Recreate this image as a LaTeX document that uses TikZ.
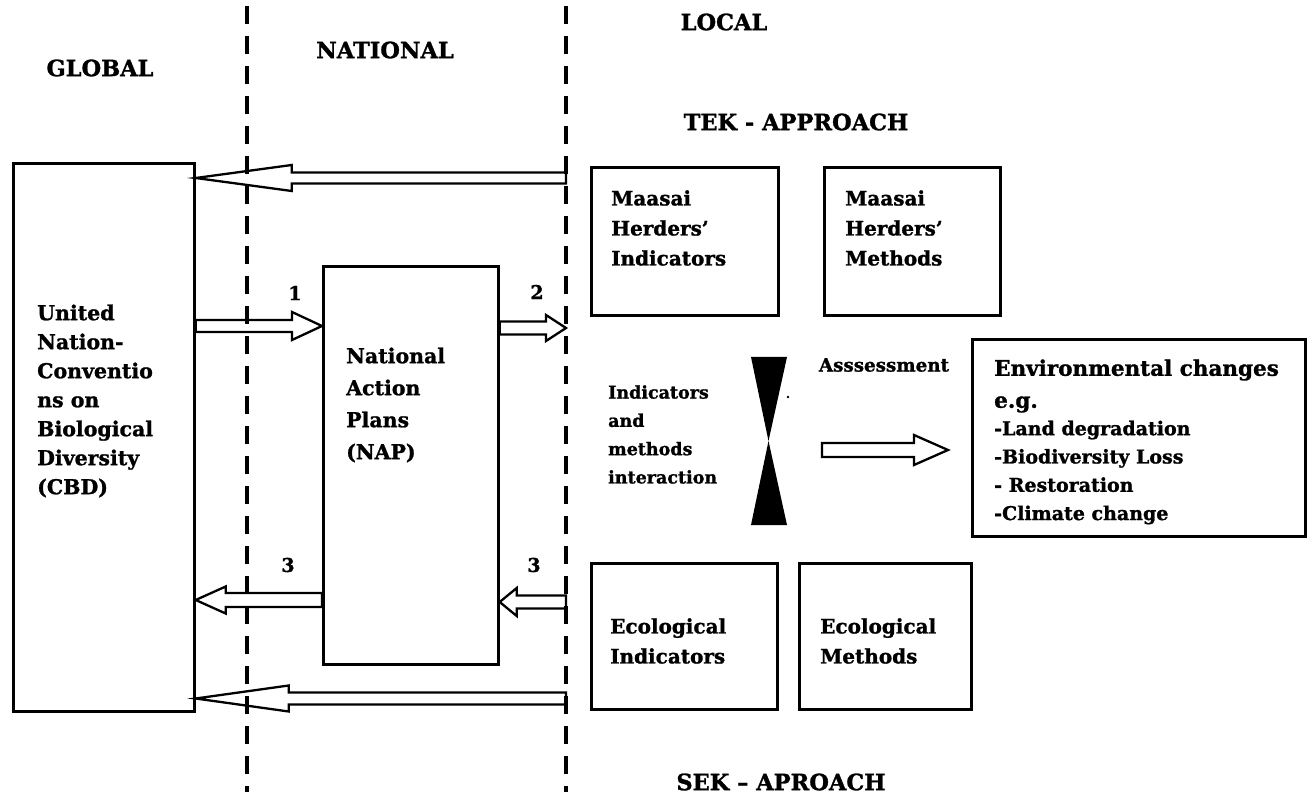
\documentclass[tikz,border=0pt]{standalone}
\usepackage{fontspec}
\setmainfont{DejaVu Serif}[BoldFeatures={FakeBold=1.2}]
\usetikzlibrary{calc}
\tikzset{
  box/.style={draw, line width=2.7pt, inner sep=0pt},
  lbl/.style={font=\bfseries\fontsize{20}{30}\selectfont, align=left, inner sep=0pt, anchor=west},
  cbdlbl/.style={font=\bfseries\fontsize{20.5}{29}\selectfont, align=left, inner sep=0pt, anchor=west},
  small/.style={font=\bfseries\fontsize{17.5}{28.3}\selectfont, align=left, inner sep=0pt, anchor=west},
  head/.style={font=\bfseries\fontsize{22.5}{26}\selectfont, inner sep=0pt},
  num/.style={font=\bfseries\fontsize{19}{22}\selectfont, inner sep=0pt},
  hollow/.style={draw, line width=2.3pt, line join=miter, fill=white},
  divider/.style={line width=3.5pt, dash pattern=on 18pt off 12pt},
}
\newcommand\harrow[5]{%
  \path[hollow] let \p1=(#1), \p2=(#2), \n1={(\x2-\x1)/abs(\x2-\x1)}, \n2={\n1*#4} in
   (\x1,{\y1+#3}) -- ({\x2-\n2},{\y1+#3}) -- ({\x2-\n2},{\y1+#5}) -- (\x2,\y1)
   -- ({\x2-\n2},{\y1-#5}) -- ({\x2-\n2},{\y1-#3}) -- (\x1,{\y1-#3}) -- cycle;}
\begin{document}
\begin{tikzpicture}[x=1pt,y=-1pt]
\useasboundingbox (0,0) rectangle (1309,799);
\fill[white] (0,0) rectangle (1309,799);

% boxes
\node[box, anchor=north west, minimum width=181pt, minimum height=548pt] (cbd) at (12,162) {};
\node[box, anchor=north west, minimum width=175pt, minimum height=398pt] (nap) at (322,265) {};
\node[box, anchor=north west, minimum width=187pt, minimum height=148pt] (mhi) at (590,166) {};
\node[box, anchor=north west, minimum width=176pt, minimum height=148pt] (mhm) at (823,166) {};
\node[box, anchor=north west, minimum width=186pt, minimum height=146pt] (eci) at (590,562) {};
\node[box, anchor=north west, minimum width=172pt, minimum height=146pt] (ecm) at (798,562) {};
\node[box, anchor=north west, minimum width=333pt, minimum height=197pt] (env) at (971,338) {};

% texts
\node[cbdlbl] (cbdt) at (37,401) {United\\Nation-\\Conventio\\ns on\\Biological\\Diversity\\(CBD)};
\node[cbdlbl, font=\bfseries\fontsize{20.5}{32}\selectfont] (napt) at (346,405) {National\\Action\\Plans\\(NAP)};
\node[lbl] (mhit) at (611,228) {Maasai\\Herders’\\Indicators};
\node[lbl] (mhmt) at (845,228) {Maasai\\Herders’\\Methods};
\node[lbl] (ecit) at (610,641) {Ecological\\Indicators};
\node[lbl] (ecmt) at (820,641) {Ecological\\Methods};
\node[small] (intt) at (608,434.5) {Indicators\\and\\methods\\interaction};
\node[small, anchor=center, font=\bfseries\fontsize{18.3}{20}\selectfont] (asst) at (884,365) {Asssessment};
\node[lbl, font=\bfseries\fontsize{21.5}{32}\selectfont] (envh) at (994,386) {Environmental changes\\e.g.};
\node[lbl, font=\bfseries\fontsize{19}{28.3}\selectfont] (envl) at (994,472.5) {-Land degradation\\-Biodiversity Loss\\- Restoration\\-Climate change};

% headings
\node[head] (global) at (100,68) {GLOBAL};
\node[head] (national) at (385,50) {NATIONAL};
\node[head] (local) at (724,22) {LOCAL};
\node[head] (tek) at (796,122) {TEK - APPROACH};
\node[head] (sek) at (781,782) {SEK – APROACH};

% numbers
\node[num] (n1) at (295,293) {1};
\node[num] (n2) at (537,292) {2};
\node[num] (n3a) at (288,565) {3};
\node[num] (n3b) at (534,565) {3};

% hourglass
\fill (751,357) -- (787,357) -- (768.5,441) -- cycle;
\fill (768.5,441) -- (787,525) -- (751,525) -- cycle;
\fill (788,397) circle (1.3);

% arrow end coordinates
\coordinate (ytop) at (566,178);
\coordinate (y1) at (0,326);
\coordinate (d2) at (566,328);
\coordinate (y3) at (0,600);
\coordinate (d3) at (566,602);
\coordinate (ybot) at (566,698.5);
\coordinate (as1) at (822,450);
\coordinate (as2) at (948,450);

\harrow{ytop}{cbd.east |- ytop}{5.5pt}{96pt}{13pt}
\harrow{cbd.east |- y1}{nap.west |- y1}{6pt}{30pt}{14pt}
\harrow{nap.east |- d2}{d2}{6.5pt}{20pt}{13pt}
\harrow{nap.west |- y3}{cbd.east |- y3}{7pt}{30pt}{13.5pt}
\harrow{d3}{nap.east |- d3}{6.5pt}{17pt}{14pt}
\harrow{ybot}{cbd.east |- ybot}{6pt}{93pt}{13pt}
\harrow{as1}{as2}{7pt}{34pt}{15pt}

% dividers
\draw[divider] (247,6) -- (247,792);
\draw[divider] (566,6) -- (566,792);
\end{tikzpicture}
\end{document}
